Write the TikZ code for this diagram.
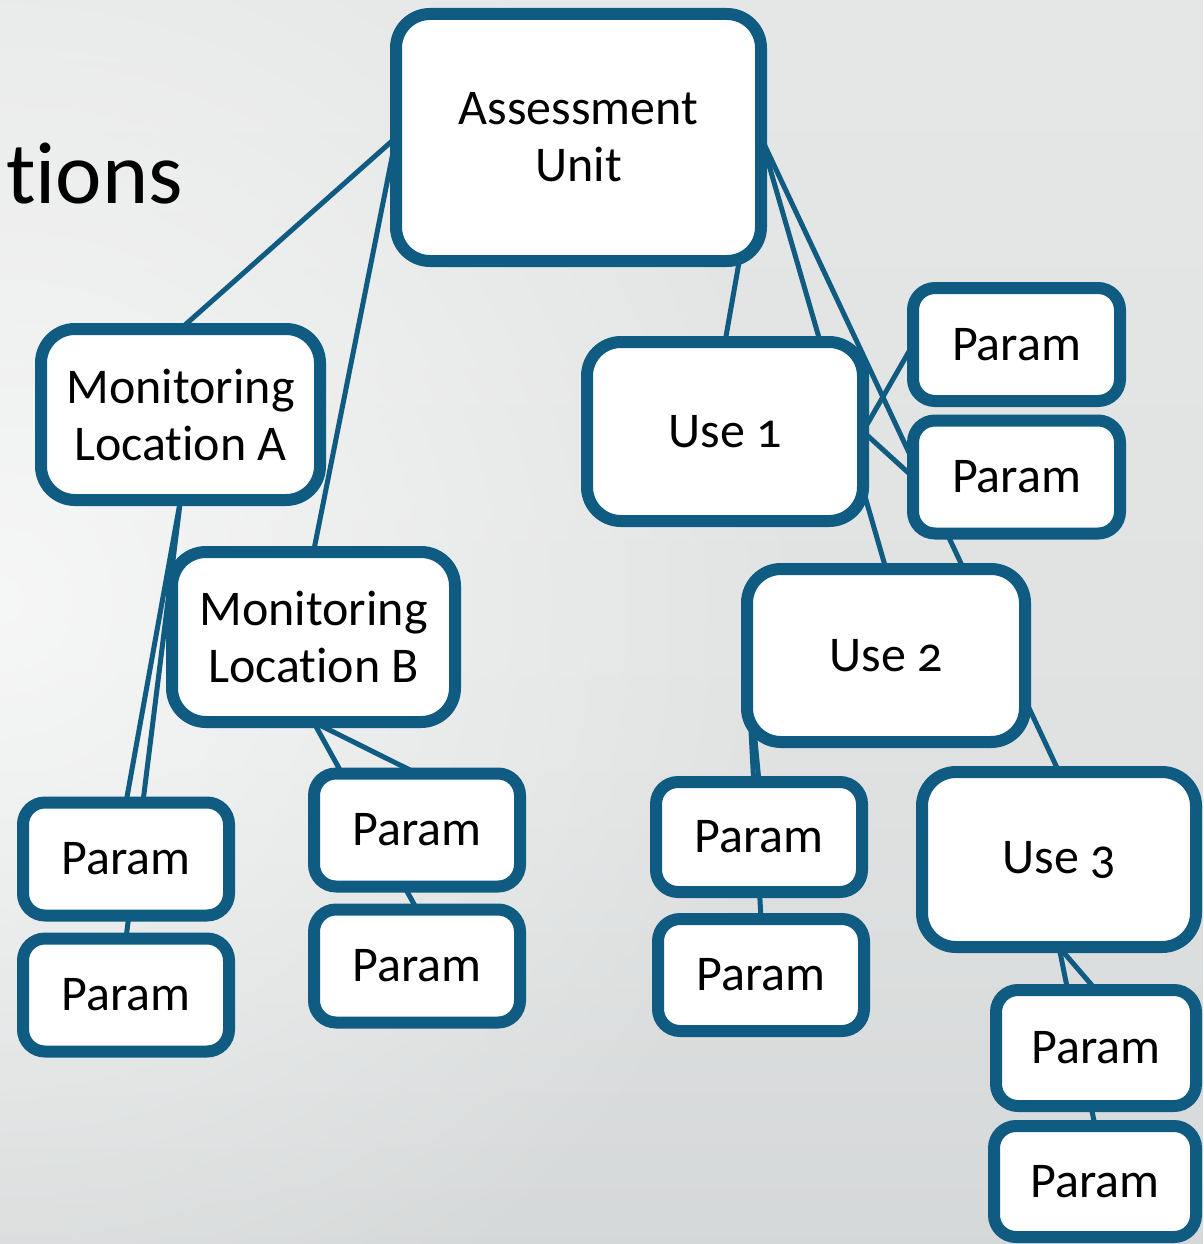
\documentclass[tikz,border=0pt]{standalone}
\usepackage{fontspec}
\setmainfont{Carlito}[Numbers=OldStyle, Ligatures=NoCommon]
\usetikzlibrary{fadings}
\pgfdeclarelayer{bg}
\pgfdeclarelayer{edges}
\pgfsetlayers{bg,edges,main}
\definecolor{boxblue}{HTML}{0F5B82}
\definecolor{bgtop}{HTML}{EAEBEB}
\definecolor{bgmid}{HTML}{E0E2E2}
\definecolor{bgbot}{HTML}{C8CCCD}
\pgfdeclareverticalshading{bgshade}{100bp}{color(0bp)=(bgbot); color(45bp)=(bgmid); color(100bp)=(bgtop)}
\tikzfading[name=softspot, inner color=transparent!0, outer color=transparent!100]
\tikzset{
  box/.style={draw=boxblue, line width=12pt, fill=white, rounded corners=#1,
    inner sep=0pt, outer sep=0pt, align=center, text=black,
    font=\fontsize{50}{57}\selectfont},
  box/.default=34pt,
  bigbox/.style={box=34pt},
  parambox/.style={box=22pt, minimum width=206pt, minimum height=113pt},
  link/.style={draw=boxblue, line width=5pt},
}
\begin{document}
\begin{tikzpicture}[x=1pt,y=-1pt]
\useasboundingbox (0,0) rectangle (1203,1244);
\begin{pgfonlayer}{bg}
  \begin{scope}
    \clip (0,0) rectangle (1203,1244);
    \shade[shading=bgshade] (0,0) rectangle (1203,1244);
    \fill[white, fill opacity=0.7, path fading=softspot] (0,600) circle (820);
  \end{scope}
\end{pgfonlayer}

\node[inner sep=0pt, anchor=base east, font=\fontsize{88}{100}\selectfont] (title) at (183,203) {tions};

\node[bigbox, minimum width=365pt, minimum height=247pt] (au) at (578.5,137.5) {Assessment\\Unit};
\node[bigbox, minimum width=279pt, minimum height=171pt] (mla) at (180.5,414.5) {Monitoring\\Location A};
\node[bigbox, minimum width=283pt, minimum height=170pt] (mlb) at (313.5,637) {Monitoring\\Location B};
\node[bigbox, minimum width=276pt, minimum height=179pt] (use1) at (725,431.5) {Use 1};
\node[bigbox, minimum width=278pt, minimum height=173pt] (use2) at (886,655.5) {Use 2};
\node[bigbox, minimum width=274pt, minimum height=175pt] (use3) at (1059,859.5) {Use 3};

\node[parambox, minimum width=207pt] (p1) at (1016.5,344.5) {Param};
\node[parambox, minimum width=207pt] (p2) at (1016.5,477) {Param};
\node[parambox] (la1) at (126,859) {Param};
\node[parambox] (la2) at (126,995) {Param};
\node[parambox] (pb1) at (417,830) {Param};
\node[parambox] (pb2) at (417,966) {Param};
\node[parambox, minimum height=110pt] (u2a) at (759,837) {Param};
\node[parambox, minimum height=112pt] (u2b) at (761,975) {Param};
\node[parambox, minimum width=200pt, minimum height=116pt] (u3a) at (1096,1048) {Param};
\node[parambox, minimum width=202pt, minimum height=111pt] (u3b) at (1095,1181.5) {Param};

\begin{pgfonlayer}{edges}
  \draw[link] (au.west) -- (mla.north);
  \draw[link] (au.west) -- (mlb.north);
  \draw[link] (au.east) -- (use1.north);
  \draw[link] (au.east) -- (use2.north);
  \draw[link] (au.east) -- (use3.north);
  \draw[link] (use1.east) -- (p1.west);
  \draw[link] (use1.east) -- (p2.west);
  \draw[link] (use2.west) -- (u2a.north);
  \draw[link] (use2.west) -- (u2b.north);
  \draw[link] (use3.south) -- (u3a.north);
  \draw[link] (use3.south) -- (u3b.north);
  \draw[link] (mla.south) -- (la1.north);
  \draw[link] (mla.south) -- (la2.north);
  \draw[link] (mlb.south) -- (pb1.north);
  \draw[link] (mlb.south) -- (pb2.north);
\end{pgfonlayer}
\end{tikzpicture}
\end{document}
